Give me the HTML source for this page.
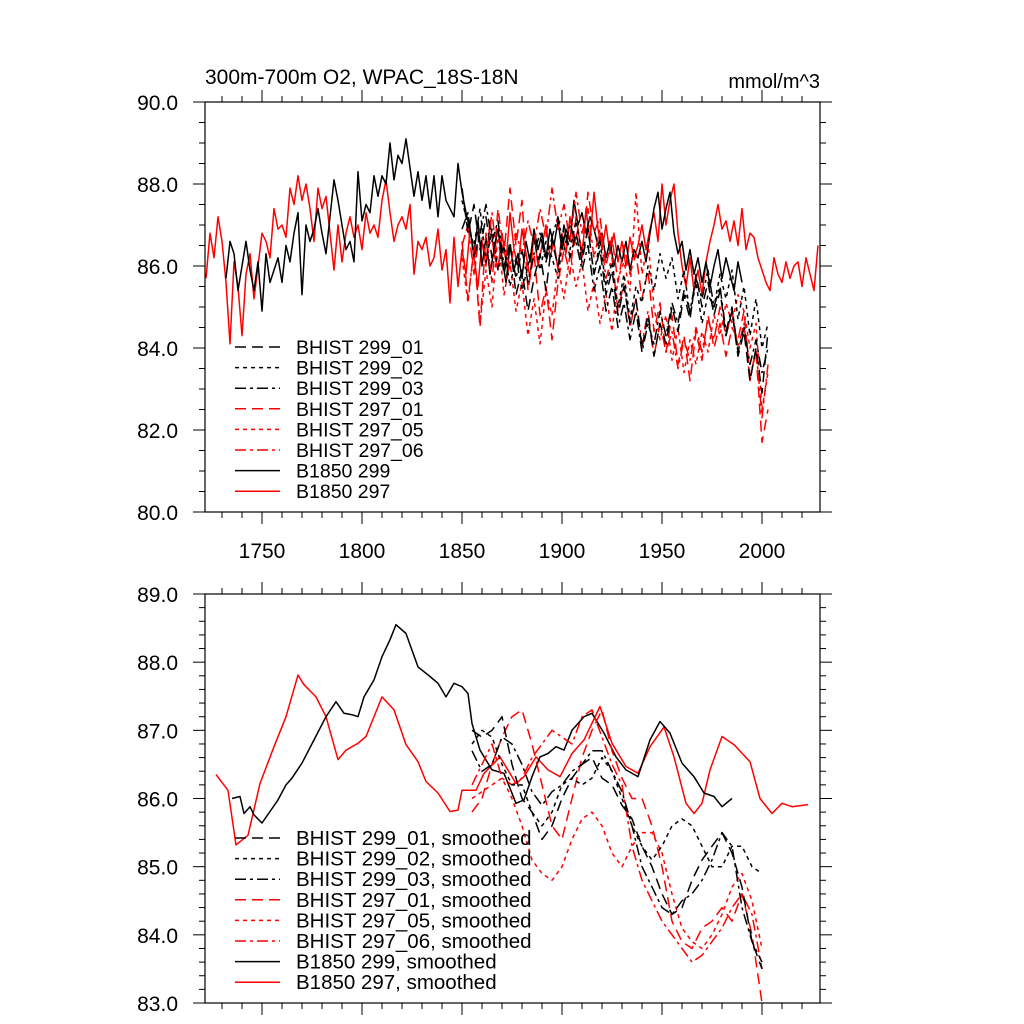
<!DOCTYPE html>
<html><head><meta charset="utf-8">
<style>
html,body{margin:0;padding:0;background:#fff;}
svg{display:block;font-family:"Liberation Sans",sans-serif;}
</style></head>
<body>
<svg id="chart" width="1024" height="1024" viewBox="0 0 1024 1024">
<text x="205" y="84" font-size="21">300m-700m O2, WPAC_18S-18N</text>
<text x="820" y="88" font-size="20" text-anchor="end">mmol/m^3</text>
<g id="top"></g>
<g id="bottom"></g>
</svg>
<script>
// ---------- data ----------
const ctrl297Years = [];
for (let y = 1722; y <= 2028; y += 2) ctrl297Years.push(y);
const ctrl297 = [85.7,86.8,86.2,87.2,86.6,85.6,84.1,86.1,85.5,84.3,85.8,86.3,85.2,86.0,86.8,86.6,86.2,87.4,86.9,87.0,86.7,87.9,87.5,88.2,87.6,88.0,87.4,86.6,87.9,87.4,87.7,86.8,85.9,87.0,86.1,86.8,87.2,86.7,87.0,86.4,87.3,86.8,87.0,86.7,87.6,88.1,87.3,86.6,87.0,87.2,86.9,87.5,85.8,86.6,86.4,86.7,86.0,86.2,86.9,85.9,86.4,85.1,86.7,85.5,86.4,85.8,86.9,86.2,85.5,86.6,86.0,87.1,86.3,85.9,86.8,86.1,87.3,86.4,86.0,86.9,86.3,85.7,86.8,86.0,86.5,87.0,86.2,86.6,85.9,86.8,86.3,87.2,86.5,86.9,86.2,87.4,86.6,87.8,86.9,86.4,87.0,86.3,86.8,86.1,86.6,86.0,86.7,86.2,86.5,87.0,86.4,86.9,87.3,86.6,88.0,87.0,87.6,88.0,86.8,86.0,85.5,86.2,85.4,85.9,85.3,86.1,86.6,87.0,87.5,86.9,87.1,86.6,87.1,86.5,87.4,86.4,86.8,86.7,86.2,85.9,85.6,85.4,86.2,85.8,85.6,86.1,85.7,86.0,86.1,85.5,86.2,85.8,85.4,86.5];
const ctrl299Years = [];
for (let y = 1732; y <= 1990; y += 2) ctrl299Years.push(y);
const ctrl299 = [85.7,86.6,86.3,85.4,86.0,86.6,85.9,85.4,86.1,84.9,86.3,85.6,85.9,86.2,85.6,86.5,86.1,86.8,87.3,85.3,87.0,86.6,86.9,87.4,86.8,86.3,87.2,88.1,87.6,87.0,86.4,86.6,86.1,88.3,87.1,87.5,87.3,88.2,87.7,88.2,88.0,89.0,88.1,88.7,88.5,89.1,88.4,87.7,88.3,87.6,88.2,87.4,88.2,87.2,88.2,87.6,87.4,87.2,88.5,87.8,87.3,86.9,86.3,87.1,86.0,86.7,85.8,86.4,86.9,86.2,85.6,86.5,85.9,86.3,85.7,86.6,86.1,86.9,86.4,86.8,86.2,86.9,86.5,87.1,86.4,86.9,86.6,87.6,87.0,87.3,86.8,87.2,86.9,86.5,86.8,86.2,86.6,86.0,86.5,86.1,86.6,85.9,86.4,86.2,86.6,86.1,86.8,87.4,87.8,86.9,87.4,87.8,86.8,86.3,86.6,85.9,86.4,85.8,86.2,85.6,86.1,85.5,86.0,86.4,85.7,86.2,85.8,85.4,86.1,85.6];
const histYears = [];
for (let y = 1850; y <= 2005; y += 3) histYears.push(y);
const hist299_01 = [87.9,86.8,87.5,86.4,87.2,86.2,86.9,85.8,86.6,85.3,85.9,84.9,85.7,86.3,85.4,86.6,86.0,87.0,86.2,86.8,86.1,86.9,85.8,86.4,85.3,85.9,84.8,85.5,84.6,85.2,84.0,84.8,83.8,84.6,84.1,85.0,84.4,85.3,84.7,85.8,85.0,85.6,84.8,85.4,84.3,84.9,83.8,84.4,83.2,84.0,82.9,84.4];
const hist299_02 = [87.6,87.0,86.5,87.4,86.1,86.9,85.9,86.5,85.5,86.2,85.4,86.0,86.7,85.9,86.6,86.2,85.7,86.9,86.4,87.1,86.3,86.9,85.8,86.6,85.5,86.1,85.0,85.8,84.7,85.5,85.1,86.0,85.4,86.3,85.7,86.2,85.2,85.9,84.8,85.6,84.6,85.3,85.0,85.8,85.2,85.9,84.7,85.5,84.3,85.2,84.0,84.6];
const hist299_03 = [86.9,87.3,86.2,86.8,87.5,86.6,87.1,86.0,86.5,85.7,86.4,85.6,86.3,86.8,86.1,86.7,87.2,86.4,87.0,86.6,85.9,86.5,85.4,86.0,84.9,85.5,84.5,85.1,84.2,84.9,83.9,84.6,84.1,84.9,84.3,85.1,84.6,85.4,84.9,85.7,85.2,85.9,85.0,85.5,84.4,85.0,83.9,84.5,83.6,84.2,83.4,84.0];
const hist297_01 = [86.6,85.2,86.4,84.5,86.8,85.6,87.4,86.3,87.9,86.5,87.6,85.4,86.3,84.8,85.5,84.2,85.6,86.4,85.8,87.2,86.3,87.8,86.8,87.2,86.0,86.7,85.6,86.5,85.8,86.3,85.2,85.9,84.4,85.1,83.9,84.8,83.6,84.3,83.2,84.4,83.7,84.8,84.0,84.6,83.8,84.5,84.2,84.9,83.3,83.9,81.7,82.5];
const hist297_05 = [86.2,85.1,86.5,84.6,85.9,85.0,86.8,85.3,86.1,84.9,85.6,84.3,85.2,84.1,85.4,84.8,86.0,85.2,86.3,85.5,86.1,84.9,85.6,84.6,85.3,84.4,85.7,86.1,85.4,87.8,85.8,86.6,85.0,84.2,84.8,83.7,84.5,83.4,84.2,83.6,84.4,83.9,84.8,84.3,85.1,84.6,85.3,84.9,84.0,84.6,82.5,83.4];
const hist297_06 = [86.5,87.0,85.8,86.9,86.2,87.3,86.0,86.6,85.9,86.8,86.3,87.1,86.5,87.4,86.7,87.9,86.9,87.5,86.6,87.8,86.8,87.4,86.2,86.9,85.7,86.2,84.9,85.6,84.5,85.2,84.1,84.9,83.8,84.6,83.9,84.4,83.5,84.2,83.7,84.5,83.9,84.7,84.2,85.0,84.3,84.9,84.0,84.6,83.2,84.0,82.3,83.6];

// smoothed
const sm297Years = [1727,1733,1737,1743,1749,1756,1762,1768,1771,1777,1782,1788,1792,1798,1802,1810,1816,1822,1828,1832,1838,1844,1848,1850,1857,1861,1869,1877,1881,1887,1893,1899,1905,1911,1919,1925,1932,1938,1944,1951,1956,1962,1966,1970,1974,1980,1986,1994,1999,2005,2010,2015,2023];
const sm297 = [86.35,86.12,85.32,85.46,86.22,86.76,87.20,87.81,87.67,87.49,87.20,86.57,86.71,86.81,86.91,87.49,87.30,86.79,86.54,86.25,86.08,85.81,85.83,86.12,86.12,86.37,86.61,86.22,86.32,86.61,86.42,86.32,86.66,86.86,87.35,86.81,86.47,86.37,86.76,87.05,86.61,85.93,85.78,85.93,86.42,86.91,86.79,86.54,86.00,85.78,85.93,85.88,85.91];
const sm299Years = [1735,1739,1741,1744,1746,1750,1754,1758,1762,1765,1770,1776,1782,1787,1791,1795,1798,1801,1806,1810,1814,1817,1822,1828,1834,1838,1842,1846,1850,1853,1855,1859,1865,1871,1877,1881,1885,1889,1893,1897,1901,1905,1911,1915,1921,1927,1932,1938,1944,1949,1954,1960,1966,1971,1976,1980,1985];
const sm299 = [86.0,86.03,85.78,85.88,85.76,85.64,85.81,85.98,86.2,86.3,86.52,86.86,87.2,87.42,87.25,87.23,87.2,87.49,87.74,88.08,88.33,88.55,88.42,87.93,87.79,87.69,87.49,87.69,87.64,87.54,87.10,86.71,86.42,86.37,85.93,85.98,86.32,86.61,86.66,86.76,86.71,87.0,87.2,87.25,86.96,86.61,86.42,86.32,86.86,87.13,86.96,86.52,86.32,86.08,86.03,85.88,86.0];
const smHistYears = [];
for (let y = 1855; y <= 2000; y += 5) smHistYears.push(y);
const sm299_01 = [87.0,86.9,87.0,87.2,86.5,86.0,85.8,85.4,85.6,86.0,86.3,86.5,86.6,86.3,86.2,85.9,85.7,85.3,85.0,84.6,84.3,84.4,84.8,85.1,85.3,85.5,85.2,84.7,83.9,83.5];
const sm299_02 = [86.8,87.0,86.9,86.5,86.2,86.2,85.8,85.6,85.8,86.2,86.3,86.2,86.3,86.6,86.4,86.0,85.6,85.3,85.1,85.3,85.6,85.7,85.6,85.3,85.0,85.0,85.3,85.3,85.0,84.9];
const sm299_03 = [86.7,86.4,86.5,86.9,86.8,86.5,86.1,85.9,86.1,86.2,86.4,86.5,86.7,86.7,86.4,86.1,85.6,85.0,84.7,84.4,84.3,84.5,84.6,84.8,85.1,85.5,85.3,84.4,83.9,83.6];
const sm297_01 = [85.8,86.0,86.5,86.9,87.2,87.3,86.8,86.2,85.6,85.4,86.0,86.6,87.0,87.3,86.7,86.3,86.0,86.0,85.6,85.0,84.2,83.9,83.8,84.1,84.2,84.4,84.2,84.6,84.0,83.0];
const sm297_05 = [86.0,86.1,86.2,86.3,86.0,85.6,85.1,84.9,84.8,85.0,85.4,85.7,85.8,85.6,85.2,85.0,85.3,85.5,85.5,85.2,84.6,84.1,83.9,83.8,84.0,84.3,84.7,84.9,84.5,83.8];
const sm297_06 = [86.2,86.5,86.8,86.3,86.2,86.3,86.6,86.8,87.0,86.9,86.8,87.2,87.3,86.9,86.5,86.2,85.3,84.8,84.5,84.2,84.0,83.8,83.6,83.7,83.9,84.1,84.4,84.6,84.3,83.5];

const xTickYears = [1750,1800,1850,1900,1950,2000];
const topYTicks = [80,82,84,86,88,90];
const botYTicks = [83,84,85,86,87,88,89];
const topLegend = ["BHIST 299_01","BHIST 299_02","BHIST 299_03","BHIST 297_01","BHIST 297_05","BHIST 297_06","B1850 299","B1850 297"];
const botLegend = topLegend.map(s => s + ", smoothed");

// ---------- drawing ----------
const NS = "http://www.w3.org/2000/svg";
const X0 = 205, X1 = 820;
function xs(yr){ return 262 + (yr - 1750) * 2; }
function mk(tag, attrs, parent){
  const e = document.createElementNS(NS, tag);
  for (const k in attrs) e.setAttribute(k, attrs[k]);
  parent.appendChild(e);
  return e;
}
const DASH = {long:"11,6", short:"4,4", dashdot:"11,4,3,4", solid:""};
const styles = [
  {c:"#000", d:"long"},{c:"#000", d:"short"},{c:"#000", d:"dashdot"},
  {c:"#f00", d:"long"},{c:"#f00", d:"short"},{c:"#f00", d:"dashdot"},
  {c:"#000", d:"solid"},{c:"#f00", d:"solid"}
];

function panel(g, top, bot, vmin, vmax, majorStep, minorStep, labels, seriesList, legend, legendY0, legendFont, showXLabels){
  const ys = v => bot - (v - vmin) / (vmax - vmin) * (bot - top);
  const clip = mk("clipPath", {id: g.id + "-clip"}, g);
  mk("rect", {x:X0, y:top, width:X1-X0, height:bot-top}, clip);
  const sg = mk("g", {"clip-path": "url(#" + g.id + "-clip)"}, g);
  seriesList.forEach((s) => {
    const pts = s.years.map((yr, j) => xs(yr).toFixed(1) + "," + ys(s.vals[j]).toFixed(1)).join(" ");
    const st = styles[s.style];
    const p = mk("polyline", {points: pts, fill:"none", stroke: st.c, "stroke-width": 1.5, "stroke-dasharray": DASH[st.d], "stroke-linejoin":"round"}, sg);
    
    
  });
  const fr = mk("rect", {x:X0, y:top, width:X1-X0, height:bot-top, fill:"none", stroke:"#000", "stroke-width":1.2}, g);
  
  
  for (let yr = 1730; yr <= 2020; yr += 10){
    const x = xs(yr);
    const major = yr % 50 === 0;
    const L = major ? 12 : 6;
    mk("line", {x1:x, y1:bot, x2:x, y2:bot+L, stroke:"#000", "stroke-width":1}, g);
    mk("line", {x1:x, y1:top, x2:x, y2:top-L, stroke:"#000", "stroke-width":1}, g);
  }
  if (showXLabels){
    xTickYears.forEach(yr => {
      const t = mk("text", {x: xs(yr), y: bot + 46, "font-size":21, "text-anchor":"middle"}, g);
      t.textContent = yr;
      
      
    });
  }
  const n = Math.round((vmax - vmin) / minorStep);
  for (let i = 0; i <= n; i++){
    const v = vmin + i * minorStep;
    const y = ys(v);
    const major = Math.abs(v / majorStep - Math.round(v / majorStep)) < 1e-6;
    const L = major ? 12 : 6;
    mk("line", {x1:X0, y1:y, x2:X0-L, y2:y, stroke:"#000", "stroke-width":1}, g);
    mk("line", {x1:X1, y1:y, x2:X1+L, y2:y, stroke:"#000", "stroke-width":1}, g);
  }
  labels.forEach(v => {
    const t = mk("text", {x: 178, y: ys(v) + 8, "font-size":21, "text-anchor":"end"}, g);
    t.textContent = v.toFixed(1);
    
    
  });
  const lg = mk("g", {}, g);
  
  
  legend.forEach((lab, i) => {
    const y = legendY0 + i * 20.6;
    const st = styles[i];
    const e = mk("g", {}, lg);
    
    
    mk("line", {x1:235, y1:y, x2:280, y2:y, stroke:st.c, "stroke-width":1.5, "stroke-dasharray":DASH[st.d]}, e);
    const t = mk("text", {x:296, y:y+7, "font-size":legendFont}, e);
    t.textContent = lab;
  });
}

const topG = document.getElementById("top");


panel(topG, 102, 512, 80, 90, 2, 0.5, topYTicks, [
  {years: ctrl297Years, vals: ctrl297, style:7, name:"b1850-297-line"},
  {years: ctrl299Years, vals: ctrl299, style:6, name:"b1850-299-line"},
  {years: histYears, vals: hist297_01, style:3, name:"bhist-297-01-line"},
  {years: histYears, vals: hist297_05, style:4, name:"bhist-297-05-line"},
  {years: histYears, vals: hist297_06, style:5, name:"bhist-297-06-line"},
  {years: histYears, vals: hist299_01, style:0, name:"bhist-299-01-line"},
  {years: histYears, vals: hist299_02, style:1, name:"bhist-299-02-line"},
  {years: histYears, vals: hist299_03, style:2, name:"bhist-299-03-line"}
], topLegend, 347, 19.5, true);

const botG = document.getElementById("bottom");


panel(botG, 594, 1003, 83, 89, 1, 0.2, botYTicks, [
  {years: sm297Years, vals: sm297, style:7, name:"b1850-297-smoothed-line"},
  {years: sm299Years, vals: sm299, style:6, name:"b1850-299-smoothed-line"},
  {years: smHistYears, vals: sm297_01, style:3, name:"bhist-297-01-smoothed-line"},
  {years: smHistYears, vals: sm297_05, style:4, name:"bhist-297-05-smoothed-line"},
  {years: smHistYears, vals: sm297_06, style:5, name:"bhist-297-06-smoothed-line"},
  {years: smHistYears, vals: sm299_01, style:0, name:"bhist-299-01-smoothed-line"},
  {years: smHistYears, vals: sm299_02, style:1, name:"bhist-299-02-smoothed-line"},
  {years: smHistYears, vals: sm299_03, style:2, name:"bhist-299-03-smoothed-line"}
], botLegend, 838, 20.5, false);
</script>
</body></html>
